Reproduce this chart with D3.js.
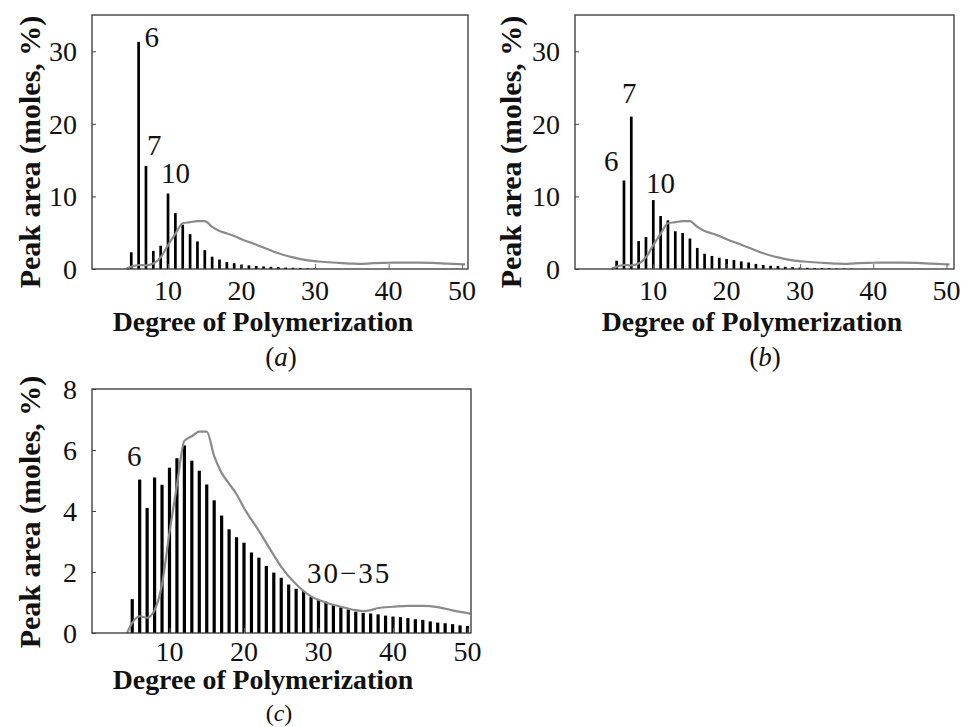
<!DOCTYPE html>
<html>
<head>
<meta charset="utf-8">
<script src="https://cdn.jsdelivr.net/npm/d3@7/dist/d3.min.js"></script>
<style>
  html, body { margin: 0; padding: 0; background: #fff; }
</style>
</head>
<body>
<svg id="chart" width="968" height="727" font-family="'Liberation Serif', 'Times New Roman', Times, serif"></svg>
<script>
// ---------------- data ----------------
const dpA = d3.range(5, 31);
const valuesA = [2.3, 31.3, 14.2, 2.5, 3.2, 10.4, 7.7, 6.1, 4.8, 3.8, 2.6, 1.7, 1.3, 0.95, 0.8, 0.6,
                 0.5, 0.42, 0.36, 0.3, 0.25, 0.2, 0.17, 0.14, 0.1, 0.08];

const dpB = d3.range(5, 38);
const valuesB = [1.15, 12.2, 21.0, 3.85, 4.4, 9.5, 7.3, 6.7, 5.2, 4.95, 4.2, 2.9, 2.1, 1.8, 1.55, 1.38,
                 1.24, 1.05, 0.9, 0.7, 0.55, 0.45, 0.4, 0.3, 0.25, 0.2, 0.17, 0.14, 0.12, 0.1, 0.08, 0.06, 0.05];

const dpC = d3.range(5, 51);
const valuesC = [1.11, 5.03, 4.1, 5.1, 4.86, 5.42, 5.73, 6.15, 5.65, 5.32, 4.87, 4.35, 3.85, 3.4, 3.14, 2.96,
                 2.64, 2.47, 2.2, 1.98, 1.81, 1.59, 1.45, 1.38, 1.19, 1.08, 1.03, 0.94, 0.84, 0.77, 0.7, 0.66,
                 0.64, 0.61, 0.57, 0.54, 0.52, 0.49, 0.45, 0.43, 0.38, 0.34, 0.32, 0.29, 0.25, 0.23];

// reference profile (gray curve), same in all panels
const curveX = [-0.7, 4.3, 5, 6, 7, 8, 9, 10, 11, 12, 13, 14, 15, 16, 17, 18, 19, 20, 22, 24, 25, 27, 29,
                31, 33, 35, 36, 37, 38, 40, 42, 44, 46, 48, 50.4];
const curveY = [0, 0, 0.33, 0.55, 0.5, 0.75, 1.6, 3.3, 4.85, 6.3, 6.45, 6.6, 6.6, 5.8, 5.25, 4.9, 4.55, 4.1,
                3.35, 2.55, 2.17, 1.6, 1.2, 1.0, 0.86, 0.75, 0.72, 0.75, 0.82, 0.86, 0.89, 0.89, 0.85, 0.74, 0.63];

const xTicks = [10, 20, 30, 40, 50];
const yTicksAB = [0, 10, 20, 30];
const yTicksC = [0, 2, 4, 6, 8];

const labelsA = [{t: "6", x: 6.8, y: 30.6}, {t: "7", x: 7.15, y: 15.7}, {t: "10", x: 9.05, y: 11.85}];
const labelsB = [{t: "6", x: 3.27, y: 13.5}, {t: "7", x: 5.73, y: 22.9}, {t: "10", x: 9.0, y: 10.47}];
const labelsC = [{t: "6", x: 4.3, y: 5.46}, {t: "30\u221235", x: 28.46, y: 1.64}];

const yTitle = "Peak area (moles, %)";
const xTitle = "Degree of Polymerization";

// ---------------- drawing ----------------
const svg = d3.select("#chart");
const curve = curveX.map((x, i) => ({x, y: curveY[i]}));

function panel(opts) {
  const {left, right, top, bottom, xDomain, yDomain, yTicks, dp, vals, barW, labels, tag, tagX,
         xLabY, titleX, titleY, tagY, tagSize, yTitleX, yTitleY} = opts;
  const x = d3.scaleLinear().domain(xDomain).range([left, right]);
  const y = d3.scaleLinear().domain(yDomain).range([bottom, top]);
  const g = svg.append("g");

  // bars
  g.selectAll("rect.bar").data(dp).join("rect")
    .attr("class", "bar")
    .attr("x", d => x(d) - barW / 2)
    .attr("width", barW)
    .attr("y", (d, i) => y(vals[i]))
    .attr("height", (d, i) => y(0) - y(vals[i]))
    .attr("fill", "#000");

  // curve
  const line = d3.line().x(d => x(d.x)).y(d => y(d.y)).curve(d3.curveMonotoneX);
  g.append("path").datum(curve.filter(d => d.x >= xDomain[0] && d.x <= xDomain[1]))
    .attr("d", line).attr("fill", "none")
    .attr("stroke", "#8a8a8a").attr("stroke-width", 2.2);

  // frame
  g.append("rect").attr("x", left).attr("y", top)
    .attr("width", right - left).attr("height", bottom - top)
    .attr("fill", "none").attr("stroke", "#333").attr("stroke-width", 1.3);

  // y ticks (inward)
  const ya = d3.axisRight(y).tickValues(yTicks).tickSize(4).tickFormat("");
  g.append("g").attr("transform", `translate(${left},0)`).call(ya)
    .call(s => s.select(".domain").remove())
    .call(s => s.selectAll("line").attr("stroke", "#444"));
  g.selectAll("text.ytl").data(yTicks).join("text")
    .attr("class", "ytl")
    .attr("x", left - 15).attr("y", d => y(d) + 10)
    .attr("text-anchor", "end")
    .attr("font-size", 28).attr("fill", "#111")
    .text(d => d);

  // x ticks (inward)
  const xa = d3.axisTop(x).tickValues(xTicks).tickSize(5).tickFormat("");
  g.append("g").attr("transform", `translate(0,${bottom})`).call(xa)
    .call(s => s.select(".domain").remove())
    .call(s => s.selectAll("line").attr("stroke", "#666"));
  g.selectAll("text.xtl").data(xTicks).join("text")
    .attr("class", "xtl")
    .attr("x", d => x(d)).attr("y", xLabY)
    .attr("text-anchor", "middle")
    .attr("font-size", 28).attr("fill", "#111")
    .text(d => d);

  // titles
  g.append("text").attr("x", titleX).attr("y", titleY)
    .attr("text-anchor", "middle").attr("font-size", 27.8).attr("font-weight", "bold").attr("fill", "#111")
    .text(xTitle);
  g.append("text")
    .attr("transform", `translate(${yTitleX},${yTitleY}) rotate(-90)`)
    .attr("text-anchor", "middle").attr("font-size", 30).attr("font-weight", "bold").attr("fill", "#111")
    .text(yTitle);

  // panel tag
  const t = g.append("text").attr("x", tagX).attr("y", tagY)
    .attr("text-anchor", "middle").attr("font-size", tagSize).attr("fill", "#111");
  t.append("tspan").text("(");
  t.append("tspan").attr("font-style", "italic").text(tag);
  t.append("tspan").text(")");

  // annotations
  g.selectAll("text.ann").data(labels).join("text")
    .attr("class", "ann")
    .attr("x", d => x(d.x)).attr("y", d => y(d.y))
    .attr("font-size", 29).attr("fill", "#111")
    .attr("letter-spacing", d => d.t.length > 2 ? 2 : 0)
    .text(d => d.t);
}

panel({left: 92, right: 468, top: 15, bottom: 269, xDomain: [-0.34, 50.8], yDomain: [0, 35],
       yTicks: yTicksAB, dp: dpA, vals: valuesA, barW: 2.7, labels: labelsA, tag: "a", tagX: 281,
       xLabY: 300, titleX: 263, titleY: 331, tagY: 366, tagSize: 27, yTitleX: 40, yTitleY: 152});
panel({left: 575, right: 954, top: 15, bottom: 269, xDomain: [-0.68, 51.02], yDomain: [0, 35],
       yTicks: yTicksAB, dp: dpB, vals: valuesB, barW: 2.7, labels: labelsB, tag: "b", tagX: 765,
       xLabY: 300, titleX: 752, titleY: 331, tagY: 366, tagSize: 27, yTitleX: 521, yTitleY: 152});
panel({left: 92, right: 471, top: 389, bottom: 633, xDomain: [-0.4, 50.47], yDomain: [0, 8],
       yTicks: yTicksC, dp: dpC, vals: valuesC, barW: 3.2, labels: labelsC, tag: "c", tagX: 279,
       xLabY: 661, titleY: 689, titleX: 263, tagY: 721, tagSize: 24, yTitleX: 40, yTitleY: 512});
</script>
</body>
</html>
